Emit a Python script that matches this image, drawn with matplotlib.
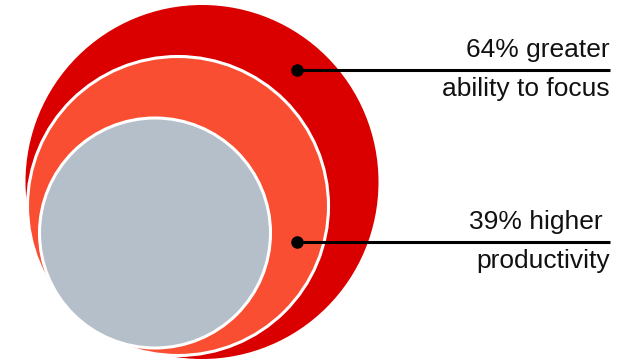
import matplotlib.pyplot as plt
from matplotlib.patches import Ellipse

plt.rcParams['font.family'] = ['Liberation Sans', 'DejaVu Sans']

# data
percent = [64, 39]
words = ['greater', 'higher ']
benefit = ['ability to focus', 'productivity']
colors = ['#db0000', '#fa4e32', '#b5bfca']

# circles: center x, center y, width, height (pixel space)
circles = [(202, 182, 353, 354), (178, 206, 301, 299), (155, 233, 231, 230)]
anchors = [(297, 70), (297, 242)]

fig = plt.figure(figsize=(6.29, 3.6), dpi=100)
ax = fig.add_axes([0, 0, 1, 1])
ax.set_xlim(0, 629)
ax.set_ylim(360, 0)
ax.axis('off')

for i, (cx, cy, w, h) in enumerate(circles):
    ec = 'none' if i == 0 else 'white'
    ax.add_patch(Ellipse((cx, cy), w, h, facecolor=colors[i], edgecolor=ec, lw=2.2))

for i in range(len(percent)):
    x0, y0 = anchors[i]
    ax.plot([x0, 610], [y0, y0], color='black', lw=2.2, solid_capstyle='butt')
    ax.plot(x0, y0, 'o', color='black', ms=8)
    ax.text(610, y0 - 20, f'{percent[i]}% {words[i]}', ha='right', va='center',
            fontsize=19, color='#111111')
    ax.text(610, y0 + 19, benefit[i], ha='right', va='center',
            fontsize=19, color='#111111')

fig.savefig('out.png', dpi=100)
